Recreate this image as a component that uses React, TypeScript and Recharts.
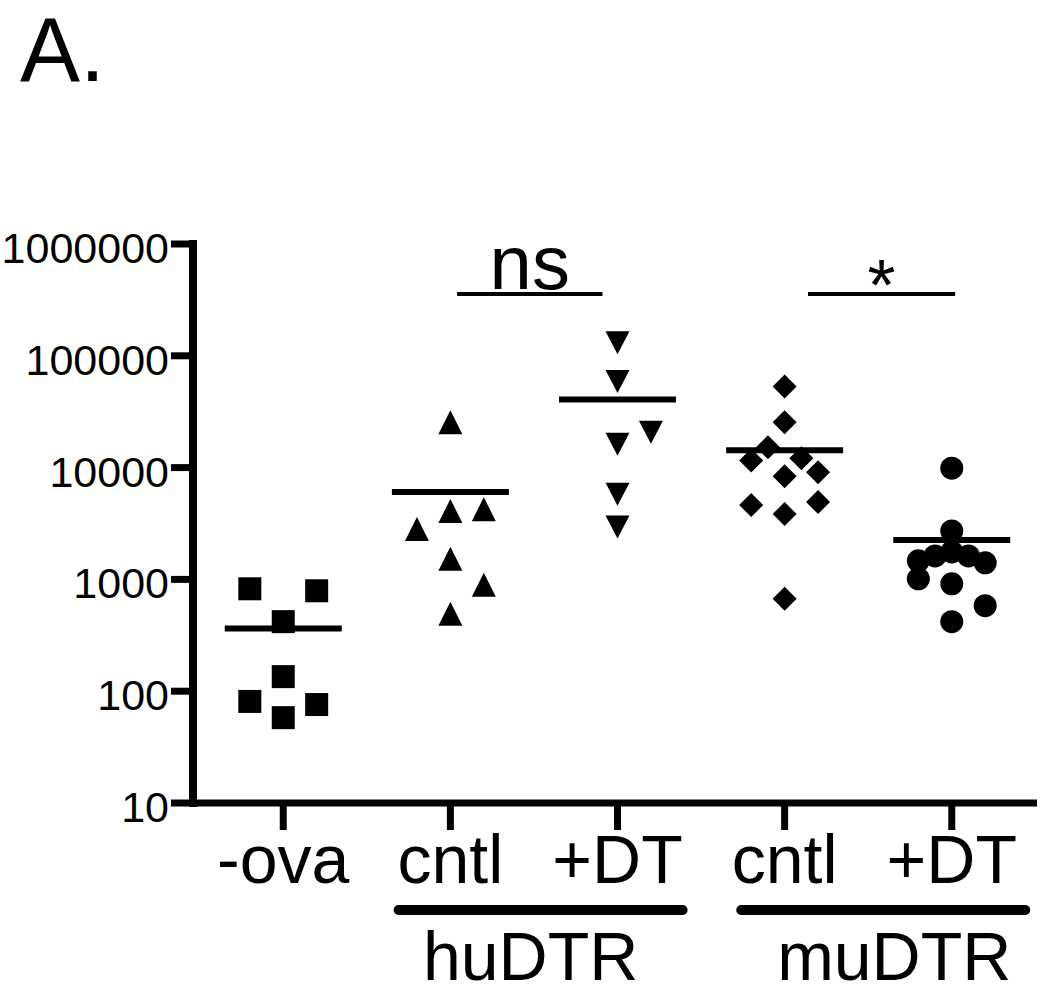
import { ScatterChart, Scatter, XAxis, YAxis, ReferenceLine } from 'recharts';

const FONT = '"Liberation Sans", Arial, Helvetica, sans-serif';

// x categories and y ticks
const categories = ['-ova', 'cntl', '+DT', 'cntl', '+DT'];
const yTicks = [10, 100, 1000, 10000, 100000, 1000000];

// readouts per group, with the horizontal scatter of each dot (category units)
const ovaValues = [824, 791, 419, 135, 81, 76, 58];
const ovaSpread = [-0.2, 0.2, 0, 0, -0.2, 0.2, 0];

const huCntlValues = [25400, 4090, 4250, 2830, 1527, 896, 493];
const huCntlSpread = [0, 0, 0.2, -0.2, 0, 0.2, 0];

const huDtValues = [131000, 58900, 20700, 16200, 5790, 2940];
const huDtSpread = [0, 0, 0.2, 0, 0, 0];

const muCntlValues = [53100, 25400, 15200, 11600, 12100, 8380, 9090, 4620, 4920, 3840, 671];
const muCntlSpread = [0, 0, -0.1, -0.2, 0.1, 0, 0.2, -0.2, 0.2, 0, 0];

const muDtValues = [9880, 2710, 1465, 1622, 1762, 1622, 1406, 1012, 914, 582, 419];
const muDtSpread = [0, 0, -0.2, -0.1, 0, 0.1, 0.2, -0.2, 0, 0.2, 0];

const groupMeans = [363, 6040, 40700, 14300, 2250];

// mouse strain labels under the pairs
const strainLabels = ['huDTR', 'muDTR'];
const strainCenters = [1.54, 3.59];

// significance annotations
const sigLabels = ['ns', '*'];
const sigFrom = [1.04, 3.14];
const sigTo = [1.91, 4.02];
const sigLevel = [358000, 358000];

const X_DOMAIN = [-0.54, 4.51];

const toPoints = (values: number[], spread: number[], cat: number) =>
  values.map((v, i) => ({ x: cat + spread[i], y: v }));

const Square = ({ cx, cy }: any) => (
  <rect x={cx - 11.5} y={cy - 11.5} width={23} height={23} fill="#000" />
);
const TriUp = ({ cx, cy }: any) => (
  <polygon points={`${cx},${cy - 12} ${cx + 12},${cy + 12} ${cx - 12},${cy + 12}`} fill="#000" />
);
const TriDown = ({ cx, cy }: any) => (
  <polygon points={`${cx - 12},${cy - 11.5} ${cx + 12},${cy - 11.5} ${cx},${cy + 11.5}`} fill="#000" />
);
const Diamond = ({ cx, cy }: any) => (
  <polygon points={`${cx},${cy - 12} ${cx + 12},${cy} ${cx},${cy + 12} ${cx - 12},${cy}`} fill="#000" />
);
const Dot = ({ cx, cy }: any) => <circle cx={cx} cy={cy} r={11.5} fill="#000" />;

const ValueTick = ({ x, y, payload }: any) => (
  <text x={x} y={y + 19} textAnchor="end" fontSize={43} fontFamily={FONT} fill="#000">
    {payload.value}
  </text>
);

const CatTick = ({ x, y, payload }: any) => (
  <text x={x} y={y + 48} textAnchor="middle" fontSize={68} fontFamily={FONT} fill="#000">
    {categories[payload.value]}
  </text>
);

const strainShift = [-10, 11];
const StrainTick = ({ x, y, payload }: any) => {
  const i = strainCenters.indexOf(payload.value);
  return (
    <g>
      <line x1={x - 142} x2={x + 142} y1={y} y2={y} stroke="#000" strokeWidth={10} strokeLinecap="round" />
      <text x={x + (strainShift[i] ?? 0)} y={y + 70} textAnchor="middle" fontSize={68} fontFamily={FONT} fill="#000">
        {strainLabels[i]}
      </text>
    </g>
  );
};

const SigLabel = ({ viewBox, text, dy, size }: any) => (
  <text
    x={viewBox.x + viewBox.width / 2}
    y={viewBox.y + dy}
    textAnchor="middle"
    fontSize={size}
    fontFamily={FONT}
    fill="#000"
  >
    {text}
  </text>
);

export default function App() {
  return (
    <div style={{ position: 'absolute', left: 0, top: 0, width: 1050, height: 993, background: '#fff' }}>
      <div
        style={{
          position: 'absolute',
          left: 20,
          top: 0,
          fontSize: 90,
          lineHeight: '100px',
          fontFamily: FONT,
          color: '#000',
        }}
      >
        A.
      </div>
      <ScatterChart width={1050} height={993} margin={{ top: 244, right: 13, bottom: 0, left: 0 }}>
        <XAxis
          dataKey="x"
          type="number"
          domain={X_DOMAIN}
          ticks={[0, 1, 2, 3, 4]}
          interval={0}
          allowDataOverflow
          height={107}
          axisLine={{ stroke: '#000', strokeWidth: 7 }}
          tickLine={{ stroke: '#000', strokeWidth: 7 }}
          tickSize={27}
          tickMargin={5}
          tick={<CatTick />}
        />
        <XAxis
          xAxisId="strain"
          dataKey="x"
          type="number"
          domain={X_DOMAIN}
          ticks={strainCenters}
          interval={0}
          allowDataOverflow
          height={83}
          axisLine={false}
          tickLine={false}
          tickSize={0}
          tickMargin={0}
          tick={<StrainTick />}
        />
        <YAxis
          dataKey="y"
          type="number"
          scale="log"
          domain={[10, 1000000]}
          ticks={yTicks}
          interval={0}
          allowDataOverflow
          width={193}
          axisLine={{ stroke: '#000', strokeWidth: 8, strokeLinecap: 'square' }}
          tickLine={{ stroke: '#000', strokeWidth: 7 }}
          tickSize={22}
          tickMargin={2}
          tick={<ValueTick />}
        />
        {/* the strain axis shares the x domain, so the squares can hang on it */}
        <Scatter xAxisId="strain" data={toPoints(ovaValues, ovaSpread, 0)} shape={<Square />} isAnimationActive={false} />
        <Scatter data={toPoints(huCntlValues, huCntlSpread, 1)} shape={<TriUp />} isAnimationActive={false} />
        <Scatter data={toPoints(huDtValues, huDtSpread, 2)} shape={<TriDown />} isAnimationActive={false} />
        <Scatter data={toPoints(muCntlValues, muCntlSpread, 3)} shape={<Diamond />} isAnimationActive={false} />
        <Scatter data={toPoints(muDtValues, muDtSpread, 4)} shape={<Dot />} isAnimationActive={false} />
        {groupMeans.map((m, i) => (
          <ReferenceLine
            key={`mean-${i}`}
            segment={[
              { x: i - 0.35, y: m },
              { x: i + 0.35, y: m },
            ]}
            stroke="#000"
            strokeWidth={6}
          />
        ))}
        {sigLabels.map((s, i) => (
          <ReferenceLine
            key={`sig-${i}`}
            segment={[
              { x: sigFrom[i], y: sigLevel[i] },
              { x: sigTo[i], y: sigLevel[i] },
            ]}
            stroke="#000"
            strokeWidth={4}
            label={<SigLabel text={s} dy={s === '*' ? 16 : -5} size={s === '*' ? 72 : 76} />}
          />
        ))}
      </ScatterChart>
    </div>
  );
}
